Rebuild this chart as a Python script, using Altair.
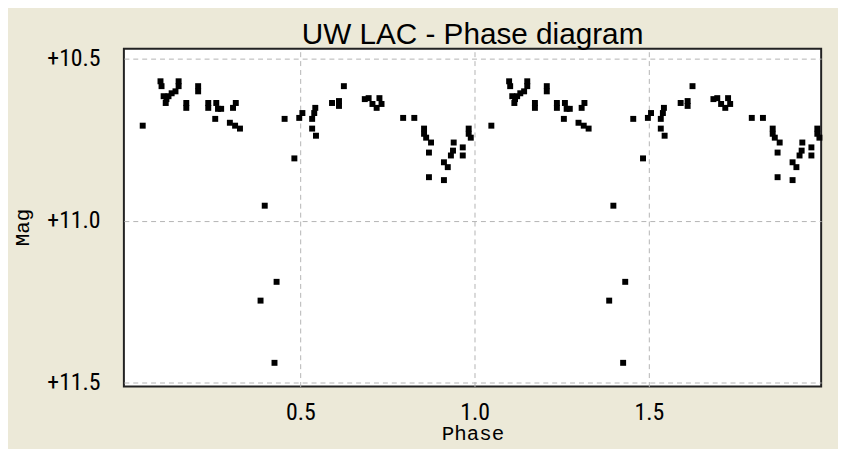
import altair as alt
import pandas as pd

# One cycle of the light curve (phase 0..1); the diagram shows it twice.
phase = [0.048, 0.099, 0.102, 0.151, 0.151, 0.142, 0.131, 0.122, 0.116, 0.114,
         0.108, 0.207, 0.207, 0.173, 0.173, 0.236, 0.236, 0.259, 0.264, 0.273,
         0.256, 0.315, 0.307, 0.298, 0.313, 0.327, 0.398, 0.432, 0.386, 0.426,
         0.455, 0.483, 0.497, 0.506, 0.534, 0.540, 0.543, 0.534, 0.545, 0.591,
         0.611, 0.611, 0.625, 0.685, 0.696, 0.727, 0.719, 0.733, 0.707, 0.795,
         0.827, 0.855, 0.855, 0.861, 0.875, 0.869, 0.869, 0.912, 0.912, 0.923,
         0.932, 0.938, 0.940, 0.966, 0.966, 0.983, 0.983, 0.989]
mag = [10.707, 10.570, 10.585, 10.570, 10.585, 10.601, 10.607, 10.616, 10.625, 10.637,
       10.616, 10.585, 10.601, 10.637, 10.652, 10.637, 10.652, 10.637, 10.655, 10.655,
       10.686, 10.637, 10.652, 10.698, 10.707, 10.716, 10.954, 11.189, 11.247, 11.439,
       10.686, 10.808, 10.683, 10.668, 10.686, 10.668, 10.652, 10.716, 10.738, 10.637,
       10.631, 10.646, 10.585, 10.625, 10.622, 10.622, 10.652, 10.640, 10.640, 10.683,
       10.683, 10.716, 10.732, 10.744, 10.759, 10.790, 10.866, 10.875, 10.820, 10.835,
       10.799, 10.784, 10.759, 10.774, 10.799, 10.716, 10.732, 10.744]

x_ticks = [0.5, 1.0, 1.5]
y_ticks = [10.5, 11.0, 11.5]

df = pd.DataFrame({
    "phase": phase + [p + 1 for p in phase],
    "mag": mag + mag,
})

label_font = "Liberation Sans Narrow, Arial Narrow, Roboto Condensed, Liberation Sans"
mono = "Liberation Mono, DejaVu Sans Mono"

chart = alt.Chart(df).mark_point(
    shape="square", filled=True, color="black", size=36, opacity=1
).encode(
    x=alt.X("phase:Q",
            scale=alt.Scale(domain=[-0.006, 1.994], nice=False, zero=False),
            axis=alt.Axis(values=x_ticks, format=".1f", title="Phase",
                          labelPadding=14, titleX=352, titleY=48,
                          titleBaseline="middle", titleAlign="center")),
    y=alt.Y("mag:Q",
            scale=alt.Scale(domain=[10.4695, 11.512], reverse=True, nice=False, zero=False),
            axis=alt.Axis(values=y_ticks, title="Mag",
                          labelExpr='"+" + format(datum.value, ".1f")',
                          labelPadding=24, titleX=-102, titleY=180,
                          titleAngle=-90, titleBaseline="middle", titleAlign="center")),
).properties(
    width=704, height=341,
    title=alt.TitleParams("UW LAC - Phase diagram", font="Liberation Sans",
                          fontSize=30, fontWeight="normal", color="black",
                          anchor="middle", offset=-3),
    background="#ECE9D8",
    padding={"left": 117, "top": 39, "right": 17, "bottom": 61},
    autosize=alt.AutoSizeParams(type="none"),
).configure_view(
    fill="white", stroke="#222222", strokeWidth=2
).configure_axis(
    grid=True, gridColor="#B4B4B4", gridDash=[5, 4], gridWidth=1,
    domain=False, ticks=False,
    labelFont=label_font, labelFontSize=24, labelColor="black",
    titleFont=mono, titleFontSize=21, titleFontWeight="normal", titleColor="black",
)

chart.save("out.html", embed_options={"renderer": "svg", "actions": False})
